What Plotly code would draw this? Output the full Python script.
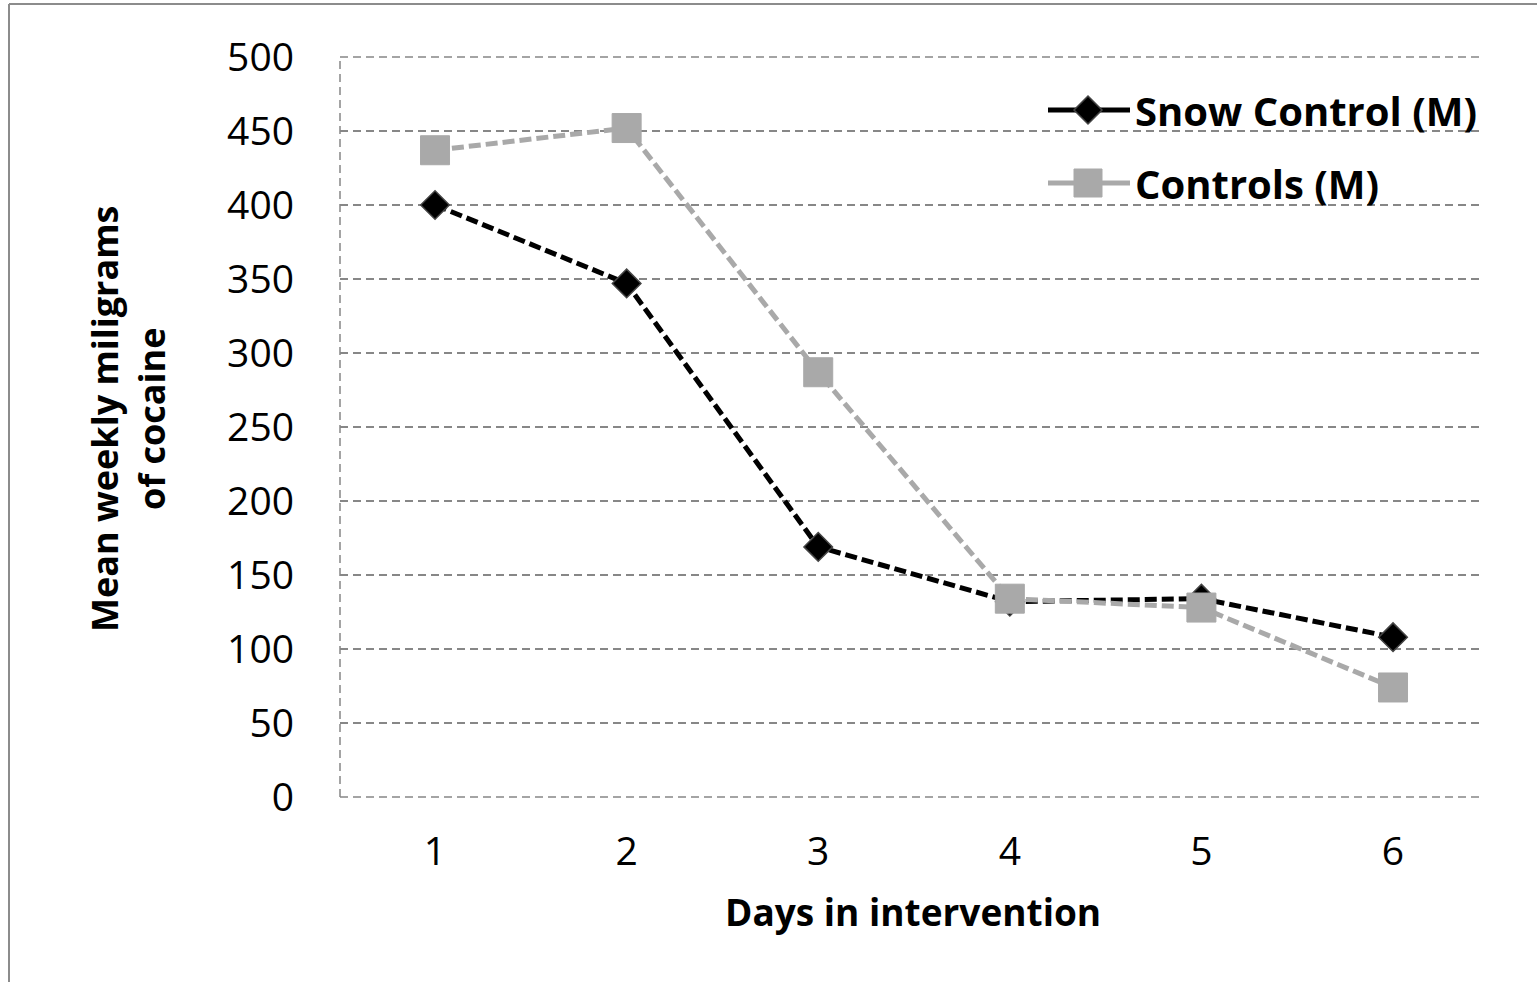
import plotly.graph_objects as go

days = [1, 2, 3, 4, 5, 6]
day_labels = ["1", "2", "3", "4", "5", "6"]
snow_control = [400, 347, 169, 132, 134, 108]
controls = [437, 452, 287, 134, 128, 74]
y_ticks = [0, 50, 100, 150, 200, 250, 300, 350, 400, 450, 500]
series_names = ["Snow Control (M)", "Controls (M)"]

W, H = 1537, 982
L, R, T, B = 340, 57, 57, 185
PW, PH = W - L - R, H - T - B

def px(x):
    return (x - L) / PW

def py(y):
    return (H - B - y) / PH

FONT = "Open Sans"
GRID = "#878787"
GDASH = "8px,5px"

fig = go.Figure()
fig.add_trace(go.Scatter(
    x=days, y=snow_control, mode="lines+markers", name=series_names[0],
    line=dict(color="#000000", width=5, dash="12px,5px"),
    marker=dict(symbol="diamond", size=22, color="#000000", line=dict(color="#444444", width=1.5)),
    showlegend=False,
))
fig.add_trace(go.Scatter(
    x=days, y=controls, mode="lines+markers", name=series_names[1],
    line=dict(color="#a9a9a9", width=5, dash="12px,5px"),
    marker=dict(symbol="square", size=29, color="#a9a9a9", line=dict(color="#a9a9a9", width=1)),
    showlegend=False,
))

shapes = []
# plot-area left, top and bottom dashed lines
shapes.append(dict(type="line", xref="paper", yref="paper", x0=0, x1=0, y0=0, y1=1,
                   line=dict(color=GRID, width=1.5, dash=GDASH), layer="below"))
shapes.append(dict(type="line", xref="paper", yref="paper", x0=0, x1=1, y0=0, y1=0,
                   line=dict(color=GRID, width=1.5, dash=GDASH), layer="below"))
shapes.append(dict(type="line", xref="paper", yref="paper", x0=0, x1=1, y0=1, y1=1,
                   line=dict(color=GRID, width=1.5, dash=GDASH), layer="below"))
# outer border (left and top)
shapes.append(dict(type="line", xref="paper", yref="paper", x0=px(9), x1=px(9), y0=py(4), y1=py(H + 5),
                   line=dict(color="#8c8c8c", width=2)))
shapes.append(dict(type="line", xref="paper", yref="paper", x0=px(9), x1=px(W + 5), y0=py(4), y1=py(4),
                   line=dict(color="#8c8c8c", width=2)))
# custom legend
leg_rows = [(110, "#000000", 5), (183, "#a9a9a9", 5)]
for (yy, col, wdt) in leg_rows:
    shapes.append(dict(type="line", xref="paper", yref="paper", x0=px(1048), x1=px(1130), y0=py(yy), y1=py(yy),
                       line=dict(color=col, width=wdt)))
shapes.append(dict(type="path", xref="paper", yref="paper", xsizemode="pixel", ysizemode="pixel",
                   xanchor=px(1088), yanchor=py(110),
                   path="M -14 0 L 0 14 L 14 0 L 0 -14 Z",
                   fillcolor="#000000", line=dict(color="#444444", width=1.5)))
shapes.append(dict(type="rect", xref="paper", yref="paper", xsizemode="pixel", ysizemode="pixel",
                   xanchor=px(1088), yanchor=py(183), x0=-14, x1=14, y0=-14, y1=14,
                   fillcolor="#a9a9a9", line=dict(color="#a9a9a9", width=1)))

annotations = [
    dict(text="<b>" + series_names[0] + "</b>", x=px(1133), y=py(110), xref="paper", yref="paper",
         xanchor="left", yanchor="middle", showarrow=False, font=dict(family=FONT, size=40, color="black")),
    dict(text="<b>" + series_names[1] + "</b>", x=px(1133), y=py(183), xref="paper", yref="paper",
         xanchor="left", yanchor="middle", showarrow=False, font=dict(family=FONT, size=40, color="black")),
    dict(text="<b>Days in intervention</b>", x=px(913), y=py(911), xref="paper", yref="paper",
         xanchor="center", yanchor="middle", showarrow=False, font=dict(family=FONT, size=37, color="black")),
    dict(text="<b>Mean weekly miligrams<br>of cocaine</b>", x=px(128), y=py(419), xref="paper", yref="paper",
         xanchor="center", yanchor="middle", textangle=-90, showarrow=False,
         font=dict(family=FONT, size=36, color="black")),
]

fig.update_layout(
    width=W, height=H, autosize=False,
    margin=dict(l=L, r=R, t=T, b=B, pad=0),
    paper_bgcolor="white", plot_bgcolor="white",
    shapes=shapes, annotations=annotations,
    showlegend=False,
    xaxis=dict(range=[0.504, 6.454], tickvals=days, ticktext=day_labels, showgrid=False, zeroline=False,
               showline=False, ticks="", ticklabelstandoff=28,
               tickfont=dict(family=FONT, size=39, color="black")),
    yaxis=dict(range=[0, 500], tickvals=y_ticks, showgrid=True, gridcolor=GRID, gridwidth=1.5,
               griddash=GDASH, zeroline=False, showline=False, ticks="", ticklabelstandoff=45,
               tickfont=dict(family=FONT, size=39, color="black")),
)

fig.write_html("out.html")
